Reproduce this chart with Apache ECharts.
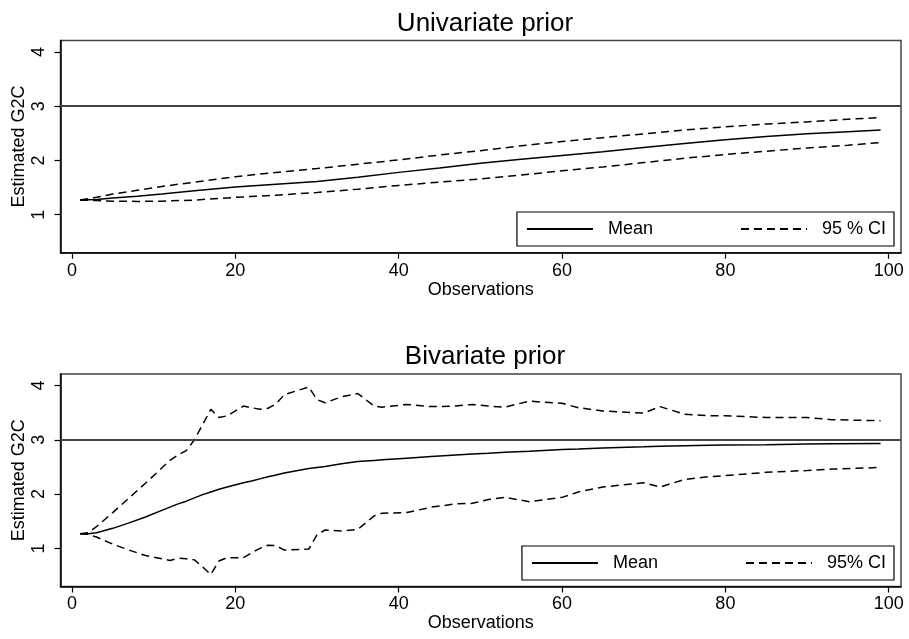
<!DOCTYPE html>
<html>
<head>
<meta charset="utf-8">
<script src="https://cdn.jsdelivr.net/npm/echarts@6/dist/echarts.min.js"></script>
<style>
html,body{margin:0;padding:0;background:#fff;}
#chart{width:909px;height:639px;}
</style>
</head>
<body>
<div id="chart"></div>
<script>
// ---- Data ----
var titles = ['Univariate prior', 'Bivariate prior'];
var xTicks = [0, 20, 40, 60, 80, 100];
var yTicks = [1, 2, 3, 4];
var refLine = 3;

// Univariate prior panel
var obsU = [1, 3, 5, 8, 11, 15, 20, 25, 30, 35, 40, 45, 50, 55, 60, 65, 70, 75, 80, 85, 90, 95, 99];
var uniMean  = [1.27, 1.28, 1.31, 1.34, 1.38, 1.44, 1.51, 1.56, 1.61, 1.69, 1.78, 1.86, 1.95, 2.02, 2.09, 2.16, 2.24, 2.31, 2.38, 2.44, 2.49, 2.53, 2.56];
var uniUpper = [1.27, 1.32, 1.38, 1.45, 1.52, 1.60, 1.70, 1.78, 1.85, 1.93, 2.01, 2.10, 2.18, 2.27, 2.35, 2.42, 2.49, 2.56, 2.62, 2.67, 2.71, 2.76, 2.79];
var uniLower = [1.27, 1.26, 1.25, 1.245, 1.25, 1.27, 1.32, 1.36, 1.41, 1.47, 1.54, 1.60, 1.66, 1.73, 1.81, 1.88, 1.96, 2.04, 2.11, 2.17, 2.23, 2.28, 2.33];

// Bivariate prior panel
var obsB = [1, 2, 3, 5, 7, 9, 11, 12, 13, 14, 15, 16, 17, 18, 19, 21, 22, 23, 24, 25, 26, 29, 30, 31, 33, 35, 37, 38, 41, 44, 47, 49, 51, 53, 56, 60, 62, 65, 70, 72, 75, 78, 80, 85, 90, 93, 99];
var bivMean  = [1.27, 1.27, 1.29, 1.37, 1.47, 1.58, 1.70, 1.76, 1.82, 1.87, 1.93, 1.99, 2.04, 2.09, 2.13, 2.21, 2.24, 2.28, 2.32, 2.35, 2.39, 2.47, 2.49, 2.51, 2.56, 2.60, 2.62, 2.63, 2.66, 2.69, 2.72, 2.74, 2.75, 2.77, 2.79, 2.82, 2.83, 2.85, 2.87, 2.88, 2.89, 2.90, 2.905, 2.91, 2.92, 2.925, 2.93];
var bivUpper = [1.27, 1.29, 1.40, 1.66, 1.93, 2.20, 2.48, 2.62, 2.72, 2.80, 3.00, 3.28, 3.56, 3.41, 3.44, 3.62, 3.59, 3.56, 3.58, 3.66, 3.83, 3.97, 3.74, 3.68, 3.79, 3.85, 3.62, 3.60, 3.65, 3.61, 3.62, 3.65, 3.62, 3.60, 3.71, 3.67, 3.59, 3.53, 3.49, 3.61, 3.47, 3.44, 3.44, 3.41, 3.41, 3.37, 3.35];
var bivLower = [1.27, 1.26, 1.21, 1.08, 0.97, 0.87, 0.81, 0.78, 0.82, 0.81, 0.79, 0.66, 0.52, 0.77, 0.83, 0.83, 0.92, 1.00, 1.06, 1.05, 0.97, 0.99, 1.25, 1.34, 1.32, 1.35, 1.60, 1.65, 1.66, 1.76, 1.82, 1.83, 1.90, 1.94, 1.86, 1.94, 2.04, 2.13, 2.21, 2.13, 2.27, 2.32, 2.34, 2.40, 2.435, 2.46, 2.49];

var legendNames = [['Mean', '95 % CI'], ['Mean', '95% CI']];

// ---- Chart ----
var FONT = "'Liberation Sans', Arial, Helvetica, sans-serif";
function pairs(xs, ys) { return xs.map(function (x, i) { return [x, ys[i]]; }); }

var grids = [
  { left: 60.5, top: 40.5, width: 840.5, height: 212.2 },
  { left: 60.5, top: 374, width: 840.5, height: 212.5 }
];

var xAxes = [], yAxes = [], series = [], legends = [], titleOpts = [];
var panels = [
  { obs: obsU, m: uniMean, u: uniUpper, l: uniLower },
  { obs: obsB, m: bivMean, u: bivUpper, l: bivLower }
];

grids.forEach(function (g, i) {
  g.show = true;
  g.borderColor = '#444';
  g.borderWidth = 1.5;
  g.backgroundColor = 'transparent';
  g.containLabel = false;
  g.outerBoundsMode = 'none';

  titleOpts.push({
    text: titles[i], left: 480, textAlign: 'center', top: i === 0 ? 6 : 339,
    textStyle: { fontFamily: FONT, fontSize: 26, fontWeight: 'normal', color: '#000' }
  });

  xAxes.push({
    type: 'value', gridIndex: i, min: -1.4, max: 101.5,
    name: 'Observations', nameLocation: 'middle', nameGap: 28, nameMoveOverlap: false,
    nameTextStyle: { fontFamily: FONT, fontSize: 18, color: '#000' },
    axisLine: { show: true, onZero: false, lineStyle: { color: '#000', width: 1.5 } },
    axisTick: { show: true, length: 6, lineStyle: { color: '#000', width: 1.2 }, customValues: xTicks },
    axisLabel: { fontFamily: FONT, fontSize: 18, color: '#000', margin: 9, customValues: xTicks },
    splitLine: { show: false }
  });

  yAxes.push({
    type: 'value', gridIndex: i, min: 0.3, max: 4.21,
    name: 'Estimated G2C', nameLocation: 'middle', nameGap: 32, nameRotate: 90, nameMoveOverlap: false,
    nameTextStyle: { fontFamily: FONT, fontSize: 18, color: '#000' },
    axisLine: { show: true, onZero: false, lineStyle: { color: '#000', width: 1.5 } },
    axisTick: { show: true, length: 6, lineStyle: { color: '#000', width: 1.2 }, customValues: yTicks },
    axisLabel: { fontFamily: FONT, fontSize: 18, color: '#000', margin: 12, rotate: 90, customValues: yTicks },
    splitLine: { show: false }
  });

  var p = panels[i];
  var ln = legendNames[i];
  series.push({
    name: ln[0], type: 'line', xAxisIndex: i, yAxisIndex: i,
    data: pairs(p.obs, p.m), symbol: 'none', smooth: false,
    lineStyle: { color: '#000', width: 1.5, type: 'solid' },
    itemStyle: { color: '#000' },
    markLine: {
      silent: true, symbol: 'none', label: { show: false },
      lineStyle: { color: '#444', width: 2, type: 'solid' },
      data: [{ yAxis: refLine }]
    },
    z: 3
  });
  series.push({
    name: ln[1], type: 'line', xAxisIndex: i, yAxisIndex: i,
    data: pairs(p.obs, p.u), symbol: 'none',
    lineStyle: { color: '#000', width: 1.5, type: [8, 5] },
    itemStyle: { color: '#000' }
  });
  series.push({
    name: ln[1], type: 'line', xAxisIndex: i, yAxisIndex: i,
    data: pairs(p.obs, p.l), symbol: 'none',
    lineStyle: { color: '#000', width: 1.5, type: [8, 5] },
    itemStyle: { color: '#000' }
  });

  legends.push({
    data: ln, right: 15, top: i === 0 ? 212 : 546, orient: 'horizontal',
    itemWidth: 66, itemHeight: 16, itemGap: 87,
    borderColor: '#000', borderWidth: 1.2, borderRadius: 0,
    padding: [8, 8, 8, 9], backgroundColor: '#fff',
    itemStyle: { color: 'rgba(0,0,0,0)', borderColor: 'rgba(0,0,0,0)', borderWidth: 0, opacity: 0 },
    textStyle: { fontFamily: FONT, fontSize: 18, color: '#000', padding: [0, 0, 0, 10] },
    selectedMode: false
  });
});

var chart = echarts.init(document.getElementById('chart'), null, { renderer: 'canvas' });
chart.setOption({
  animation: false,
  backgroundColor: '#fff',
  title: titleOpts,
  grid: grids,
  xAxis: xAxes,
  yAxis: yAxes,
  legend: legends,
  series: series
});
</script>
</body>
</html>
